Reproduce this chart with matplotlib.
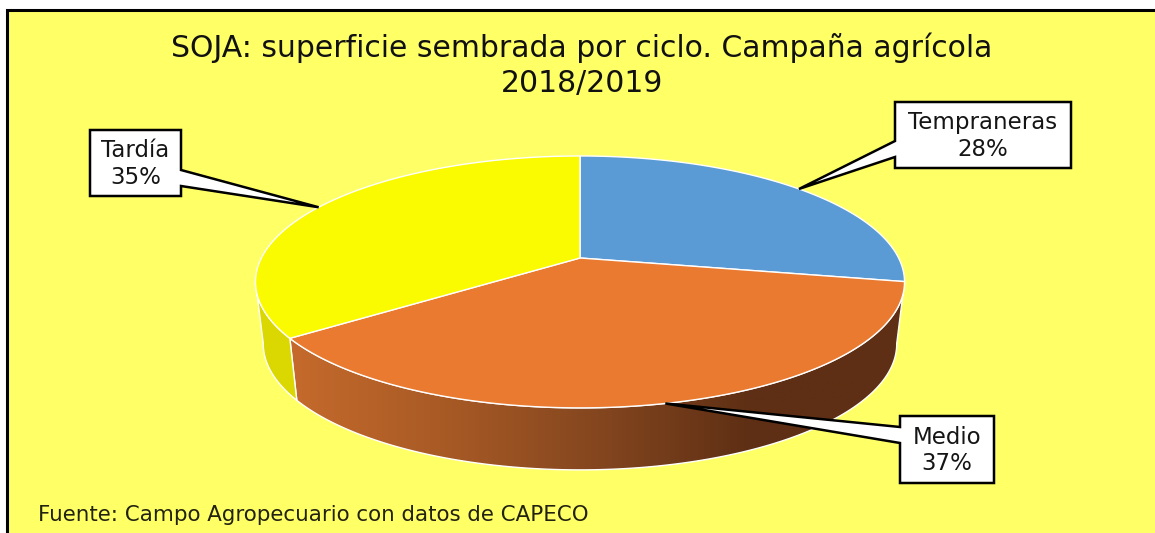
import numpy as np
import matplotlib
matplotlib.use('Agg')
import matplotlib.pyplot as plt
from matplotlib.colors import LinearSegmentedColormap
from matplotlib.patches import Polygon, Rectangle

# values in pie order, clockwise from 12 o'clock
labels = ['Tempraneras', 'Medio', 'Tardía']
values = [28, 37, 35]
colors = ['#5B9BD5', '#EA7A30', '#FAFA00']

title = 'SOJA: superficie sembrada por ciclo. Campaña agrícola\n2018/2019'
source = 'Fuente: Campo Agropecuario con datos de CAPECO'

BG = '#FFFF66'
cx, cy = 580, 258
k = 0.19      # perspective
A, B = 318.6, 121.4
depth = 62
shrink = 0.976

def rim(frac, lower=False):
    # point of the pie rim, frac is 0-1 clockwise from the top
    t = 2 * np.pi * np.asarray(frac)
    x, y = np.sin(t), np.cos(t)
    w = 1 + k * y
    px = A * x / w
    py = -B * y / w
    if lower:
        return cx + shrink * px, cy + py + depth
    return cx + px, cy + py

fig = plt.figure(figsize=(11.55, 5.33), dpi=100)
ax = fig.add_axes([0, 0, 1, 1])
ax.set_xlim(0, 1155)
ax.set_ylim(533, 0)
ax.axis('off')

# chart area
ax.add_patch(Rectangle((7, 9.5), 1160, 540, fc=BG, ec='black', lw=2.2, zorder=1))

fracs = np.cumsum([0] + values) / sum(values)

# side wall, only the front part shows
def wall(f0, f1):
    f = np.linspace(f0, f1, 200)
    xt, yt = rim(f)
    xb, yb = rim(f, lower=True)
    return np.r_[xt, xb[::-1]], np.r_[yt, yb[::-1]]

side_x, side_y = wall(fracs[1], fracs[2])
grad = LinearSegmentedColormap.from_list('side', ['#C56A2C', '#A85A25', '#84461F', '#5E2F14', '#5E2F14'])
im = ax.imshow(np.linspace(0, 1, 256)[None, :], cmap=grad, extent=(291, 905, 480, 280), aspect='auto', zorder=2)
orange_side = Polygon(np.c_[side_x, side_y], closed=True, fc='none', ec='white', lw=1.0, zorder=3)
ax.add_patch(orange_side)
im.set_clip_path(orange_side)
ax.set_xlim(0, 1155)
ax.set_ylim(533, 0)

side_x, side_y = wall(fracs[2], 0.72)
ax.add_patch(Polygon(np.c_[side_x, side_y], closed=True, fc='#DAD800', ec='white', lw=1.0, zorder=3))

# top face
for i in range(len(values)):
    x, y = rim(np.linspace(fracs[i], fracs[i + 1], 200))
    ax.add_patch(Polygon(np.c_[np.r_[cx, x], np.r_[cy, y]], closed=True, fc=colors[i], ec='white', lw=1.0, zorder=4))

# callouts, the tail ends on the rim at the middle of each slice
boxes = {'Tempraneras': (895, 102, 1071, 168), 'Medio': (900, 416, 994, 483), 'Tardía': (90, 130, 181, 196)}
tails = {'Tempraneras': (141, 157), 'Medio': (427, 443), 'Tardía': (170, 186)}
for i, name in enumerate(labels):
    x0, y0, x1, y1 = boxes[name]
    t0, t1 = tails[name]
    tip = rim((fracs[i] + fracs[i + 1]) / 2)
    if tip[0] < x0:
        pts = [(x0, y0), (x1, y0), (x1, y1), (x0, y1), (x0, t1), tip, (x0, t0)]
    else:
        pts = [(x0, y0), (x1, y0), (x1, t0), tip, (x1, t1), (x1, y1), (x0, y1)]
    ax.add_patch(Polygon(pts, closed=True, fc='white', ec='black', lw=1.8, joinstyle='miter', zorder=5))
    ax.text((x0 + x1) / 2, (y0 + y1) / 2 + 1, '%s\n%d%%' % (name, values[i]), ha='center', va='center',
            fontsize=16.5, color='#151515', linespacing=1.22, zorder=6)

ax.text(582, 65, title, ha='center', va='center', fontsize=21.5, color='#111111', linespacing=1.27, zorder=6)
ax.text(38, 515, source, ha='left', va='center', fontsize=15.4, color='#222211', zorder=6)

fig.savefig('out.png', dpi=100, facecolor='white')
